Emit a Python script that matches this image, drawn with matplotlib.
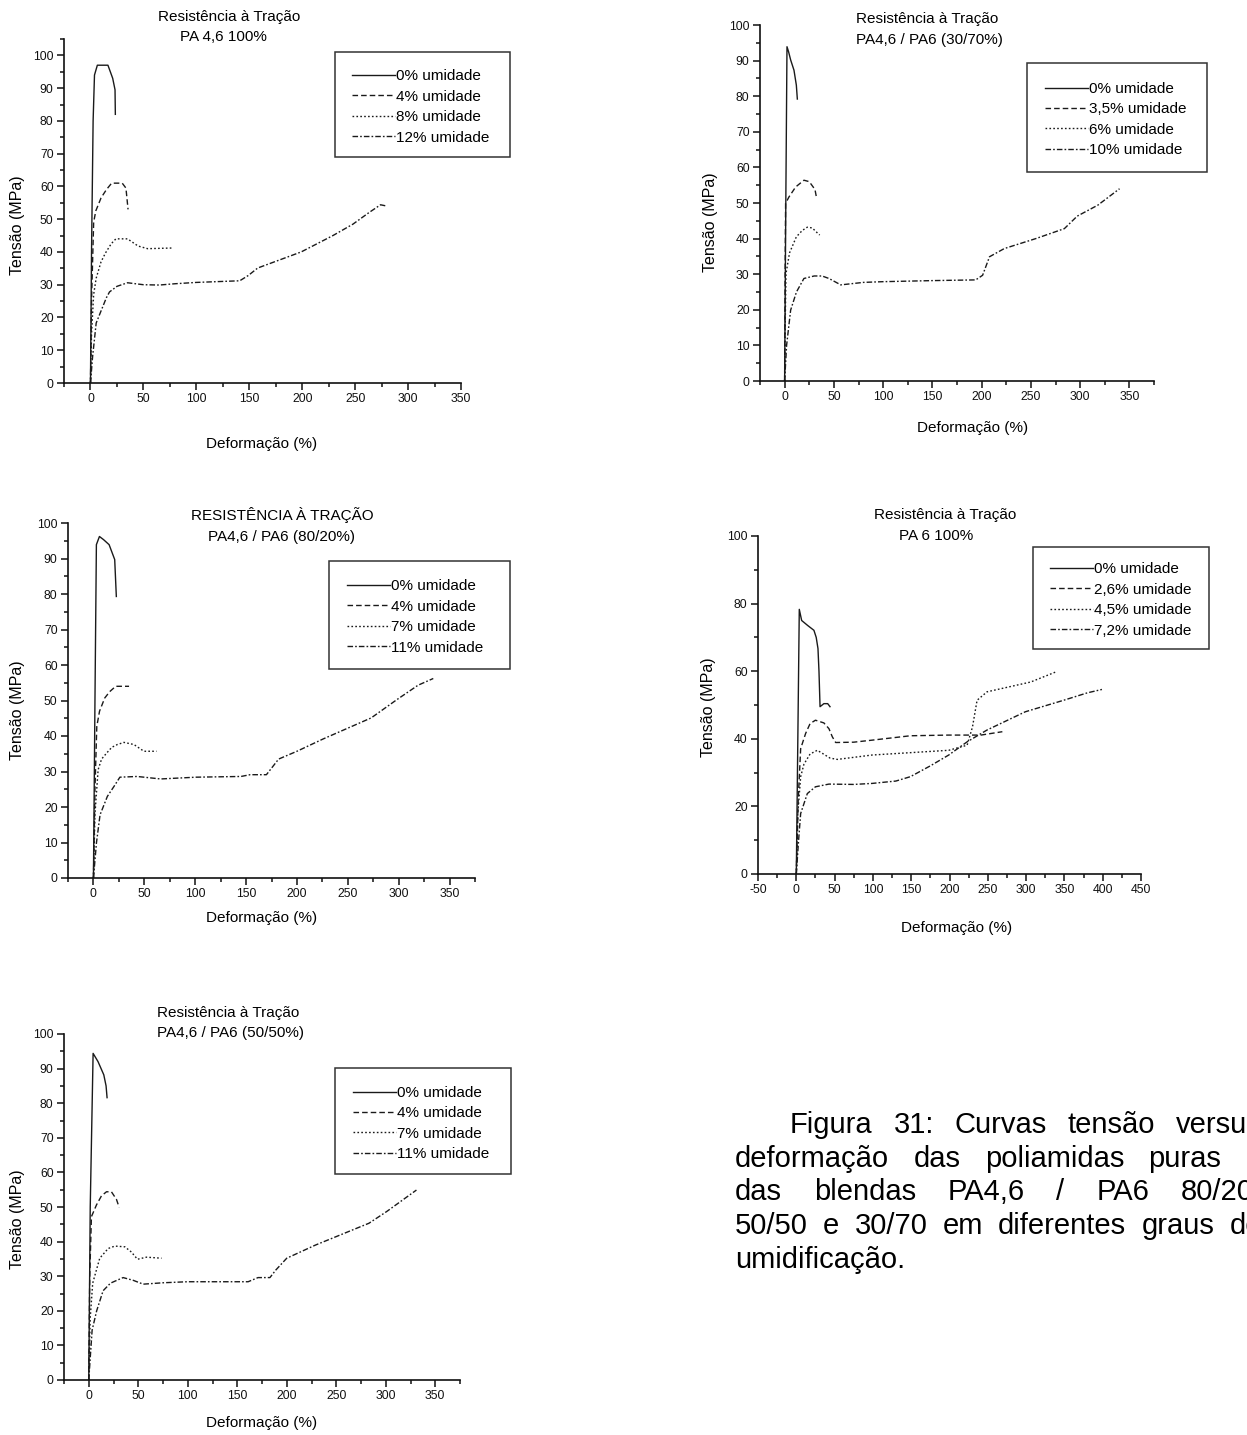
import matplotlib
matplotlib.use('Agg')
import matplotlib.pyplot as plt
from matplotlib.ticker import MultipleLocator
from matplotlib.patches import Rectangle

plt.rcParams['font.family'] = ['Liberation Sans', 'DejaVu Sans']
plt.rcParams['axes.unicode_minus'] = False

# ---------------- data ----------------
# Panel 1: PA 4,6 100%
p1_0_x = [0, 1, 2.5, 3.8, 6.5, 16.5, 21, 23.2, 23.5]
p1_0_y = [0, 40, 80, 94, 97, 97, 93, 89.5, 82]
p1_4_x = [0, 1, 3, 5, 10, 15, 20, 30, 33.5, 35.5]
p1_4_y = [0, 25, 49, 52.5, 56.5, 59, 61, 61, 59.5, 53]
p1_8_x = [0, 1, 3, 5.4, 10, 14.2, 19.6, 24, 35, 45, 54, 77]
p1_8_y = [0, 15, 27, 32, 37, 39.7, 42.5, 44, 44, 41.8, 41, 41.2]
p1_12_x = [0, 2, 5.4, 10, 15, 18, 25, 35, 50, 65, 80, 100, 141, 149, 158, 199, 229, 248, 263, 274, 280]
p1_12_y = [0, 8, 18.3, 22, 26, 27.8, 29.5, 30.6, 30, 29.9, 30.3, 30.7, 31.2, 32.8, 35.1, 40, 45, 48.5, 52, 54.4, 54]
p1_labels = ["0% umidade", "4% umidade", "8% umidade", "12% umidade"]

# Panel 2: PA4,6 / PA6 (30/70%)
p2_0_x = [0, 1.2, 2.4, 4, 6.1, 9.5, 11.9, 12.9]
p2_0_y = [0, 50, 93.9, 92.5, 90.2, 87.3, 83.1, 79.2]
p2_35_x = [0, 0.5, 1, 4.4, 11.2, 19.6, 25, 30.8, 32.5]
p2_35_y = [0, 30, 49.9, 51.7, 54.5, 56.4, 56, 53.8, 51.3]
p2_6_x = [0, 0.7, 1.4, 5, 11.9, 18, 23, 28, 33.2, 35.6]
p2_6_y = [0, 18, 30.2, 36, 40.5, 42.3, 43.2, 43, 41.6, 41]
p2_10_x = [0, 2, 6.1, 12, 19.6, 30, 38, 45, 57, 80, 100, 150, 194, 201, 208, 223, 255, 284, 297, 318, 340]
p2_10_y = [0, 10, 19.9, 25, 28.8, 29.5, 29.5, 28.8, 27, 27.7, 27.9, 28.2, 28.4, 29.7, 34.9, 37.2, 40, 42.8, 46.3, 49.4, 54]
p2_labels = ["0% umidade", "3,5% umidade", "6% umidade", "10% umidade"]

# Panel 3: PA4,6 / PA6 (80/20%)
p3_0_x = [0, 1.5, 2.9, 5.9, 10, 15.4, 20.9, 22.5]
p3_0_y = [0, 50, 93.9, 96.2, 95.3, 93.9, 89.7, 79.3]
p3_4_x = [0, 1.5, 3.3, 6, 11.1, 16, 21.9, 35]
p3_4_y = [0, 25, 42.7, 47, 50.7, 52.5, 54, 54]
p3_7_x = [0, 1.5, 4.6, 8, 13, 18, 23.5, 30, 39.8, 49.6, 62]
p3_7_y = [0, 18, 30.5, 33.5, 35.2, 36.8, 37.6, 38.2, 37.6, 35.7, 35.7]
p3_11_x = [0, 3, 6.5, 13.7, 20.2, 26, 43, 66, 101, 145, 154, 170, 182, 200, 226, 273, 298, 319, 334]
p3_11_y = [0, 10, 17.8, 23, 25.8, 28.4, 28.6, 27.9, 28.4, 28.6, 29.1, 29.1, 33.5, 35.7, 39.2, 45.1, 50.2, 54.3, 56.2]
p3_labels = ["0% umidade", "4% umidade", "7% umidade", "11% umidade"]

# Panel 4: PA 6 100%
p4_0_x = [0, 2, 3.9, 7, 15, 23, 26, 28.3, 29.6, 31, 36, 41, 44]
p4_0_y = [0, 40, 78.3, 75, 73.5, 72.1, 70, 66.7, 60, 49.5, 50.4, 50.4, 49.5]
p4_26_x = [0, 2.5, 5.7, 12.2, 18, 25, 36, 42.6, 47, 51.4, 75, 99, 149, 199, 241, 269]
p4_26_y = [0, 22, 37.1, 41.6, 44.5, 45.5, 44.7, 43, 40.6, 38.9, 39, 39.6, 40.9, 41.1, 41.1, 42.1]
p4_45_x = [0, 2, 5.7, 10, 18, 27.4, 34, 44, 53.5, 99, 149, 199, 223, 230, 236, 249, 306, 339]
p4_45_y = [0, 18, 28.8, 32.5, 35.5, 36.6, 35.7, 34.3, 33.9, 35.2, 35.9, 36.6, 38.1, 43.5, 51.4, 53.9, 56.8, 59.8]
p4_72_x = [0, 3, 5.7, 14.4, 25, 42.6, 75, 99, 130, 149, 175, 199, 223, 249, 299, 349, 380, 399]
p4_72_y = [0, 10, 17.9, 23.8, 25.8, 26.6, 26.5, 26.8, 27.5, 28.8, 32, 35.2, 39.1, 42.6, 48, 51.4, 53.6, 54.6]
p4_labels = ["0% umidade", "2,6% umidade", "4,5% umidade", "7,2% umidade"]

# Panel 5: PA4,6 / PA6 (50/50%)
p5_0_x = [0, 1.5, 4.4, 9.4, 15.2, 17.5, 18.5]
p5_0_y = [0, 50, 94.4, 92, 88.2, 85, 81.6]
p5_4_x = [0, 1, 2.7, 7.8, 12.8, 17.9, 22.9, 28, 30.7]
p5_4_y = [0, 30, 47.2, 50.6, 53.2, 54.4, 54.4, 52.2, 49.9]
p5_7_x = [0, 1.5, 4, 11.1, 19.6, 26.3, 36.4, 43, 49.2, 58.3, 73.5]
p5_7_y = [0, 18, 28, 35.2, 38, 38.7, 38.5, 37, 34.9, 35.5, 35.2]
p5_11_x = [0, 3.4, 8, 14.5, 22, 34.7, 45, 55, 75, 100, 161, 171, 183, 189, 200, 229, 283, 301, 331]
p5_11_y = [0, 14.4, 20, 25.8, 28, 29.6, 28.8, 27.7, 28.1, 28.4, 28.4, 29.6, 29.6, 31.8, 35.2, 39, 45.3, 48.7, 54.9]
p5_labels = ["0% umidade", "4% umidade", "7% umidade", "11% umidade"]

titles = [
    ["Resistência à Tração", "PA 4,6 100%"],
    ["Resistência à Tração", "PA4,6 / PA6 (30/70%)"],
    ["RESISTÊNCIA À TRAÇÃO", "PA4,6 / PA6 (80/20%)"],
    ["Resistência à Tração", "PA 6 100%"],
    ["Resistência à Tração", "PA4,6 / PA6 (50/50%)"],
]
xlabel = "Deformação (%)"
ylabel = "Tensão (MPa)"
caption_lines = [
    "Figura 31: Curvas tensão versus",
    "deformação das poliamidas puras e",
    "das blendas PA4,6 / PA6 80/20,",
    "50/50 e 30/70 em diferentes graus de",
    "umidificação.",
]

# ---------------- layout ----------------
W, H = 1247, 1435
fig = plt.figure(figsize=(W / 100, H / 100), dpi=100)


def fx(px):
    return px / W


def fy(py):
    return 1 - py / H


styles = ['-', (0, (4, 2.2)), (0, (1.2, 1.6)), (0, (4, 1.5, 1.2, 1.5))]
LC = '#1a1a1a'

panels = [
    dict(series=[(p1_0_x, p1_0_y), (p1_4_x, p1_4_y), (p1_8_x, p1_8_y), (p1_12_x, p1_12_y)],
         labels=p1_labels, rect=(64, 461, 39, 383), xlim=(-25, 350), ylim=(0, 105),
         xt=(50, 25), yt=(10, 5),
         title=[(158, 17, 'left'), (180, 37, 'left')],
         box=(335, 510, 52, 157), hx=352, rows=107,
         xl=(262, 444), yl=(18, 225)),
    dict(series=[(p2_0_x, p2_0_y), (p2_35_x, p2_35_y), (p2_6_x, p2_6_y), (p2_10_x, p2_10_y)],
         labels=p2_labels, rect=(760, 1154, 25, 381), xlim=(-25, 375), ylim=(0, 100),
         xt=(50, 25), yt=(10, 5),
         title=[(856, 19, 'left'), (856, 40, 'left')],
         box=(1027, 1207, 63, 172), hx=1045, rows=119.5,
         xl=(973, 428), yl=(710, 222)),
    dict(series=[(p3_0_x, p3_0_y), (p3_4_x, p3_4_y), (p3_7_x, p3_7_y), (p3_11_x, p3_11_y)],
         labels=p3_labels, rect=(68, 475, 523, 878), xlim=(-25, 375), ylim=(0, 100),
         xt=(50, 25), yt=(10, 5),
         title=[(282, 515, 'center'), (282, 537, 'center')],
         box=(329, 510, 561, 669), hx=347, rows=617,
         xl=(262, 918), yl=(18, 710)),
    dict(series=[(p4_0_x, p4_0_y), (p4_26_x, p4_26_y), (p4_45_x, p4_45_y), (p4_72_x, p4_72_y)],
         labels=p4_labels, rect=(758, 1141, 536, 874), xlim=(-50, 450), ylim=(0, 100),
         xt=(50, 25), yt=(20, 10),
         title=[(874, 515, 'left'), (899, 536, 'left')],
         box=(1033, 1209, 547, 649), hx=1050, rows=600,
         xl=(957, 928), yl=(708, 707)),
    dict(series=[(p5_0_x, p5_0_y), (p5_4_x, p5_4_y), (p5_7_x, p5_7_y), (p5_11_x, p5_11_y)],
         labels=p5_labels, rect=(64, 460, 1034, 1380), xlim=(-25, 375), ylim=(0, 100),
         xt=(50, 25), yt=(10, 5),
         title=[(157, 1013, 'left'), (157, 1033, 'left')],
         box=(335, 511, 1068, 1174), hx=353, rows=1123.5,
         xl=(262, 1423), yl=(18, 1219)),
]

for P, ttl in zip(panels, titles):
    x0, x1, yt, yb = P['rect']
    ax = fig.add_axes([fx(x0), fy(yb), (x1 - x0) / W, (yb - yt) / H])
    ax.patch.set_alpha(0)
    for (xs, ys), lab, st in zip(P['series'], P['labels'], styles):
        ax.plot(xs, ys, color=LC, lw=1.0, ls=st, label=lab)
    ax.set_xlim(*P['xlim'])
    ax.set_ylim(*P['ylim'])
    ax.xaxis.set_major_locator(MultipleLocator(P['xt'][0]))
    ax.xaxis.set_minor_locator(MultipleLocator(P['xt'][1]))
    ax.yaxis.set_major_locator(MultipleLocator(P['yt'][0]))
    ax.yaxis.set_minor_locator(MultipleLocator(P['yt'][1]))
    for s in ('top', 'right'):
        ax.spines[s].set_visible(False)
    for s in ('left', 'bottom'):
        ax.spines[s].set_linewidth(1.2)
        ax.spines[s].set_color('#111111')
    ax.tick_params(which='major', direction='out', length=5, width=1.1, labelsize=8.8, pad=2.5, colors='#111111')
    ax.tick_params(which='minor', direction='out', length=3, width=1.1, colors='#111111')

    # legend (entries) + frame
    ax.legend(loc='center left', bbox_to_anchor=(fx(P['hx']), fy(P['rows'])),
              bbox_transform=fig.transFigure, frameon=False, fontsize=11,
              handlelength=2.8, handletextpad=0.1, labelspacing=0.42,
              borderpad=0, borderaxespad=0)
    bx0, bx1, by0, by1 = P['box']
    fig.add_artist(Rectangle((fx(bx0), fy(by1)), (bx1 - bx0) / W, (by1 - by0) / H,
                             transform=fig.transFigure, fill=False, lw=1.1, ec='#333333'))

    # titles and labels
    for line, (tx, ty, ha) in zip(ttl, P['title']):
        fig.text(fx(tx), fy(ty), line, ha=ha, va='center', fontsize=11)
    fig.text(fx(P['xl'][0]), fy(P['xl'][1]), xlabel, ha='center', va='center', fontsize=11)
    fig.text(fx(P['yl'][0]), fy(P['yl'][1]), ylabel, ha='center', va='center', fontsize=11.5, rotation=90)

# ---------------- justified caption ----------------
renderer = fig.canvas.get_renderer()
cap_start = [790, 735, 735, 735, 735]
cap_base = [1133, 1167, 1200, 1234, 1268]
cap_right = 1262
cap_fs = 21
for i, line in enumerate(caption_lines):
    words = line.split(' ')
    objs = [fig.text(0, fy(cap_base[i]), w, ha='left', va='baseline', fontsize=cap_fs) for w in words]
    widths = [o.get_window_extent(renderer).width for o in objs]
    justify = i < len(caption_lines) - 1
    if justify and len(words) > 1:
        gap = (cap_right - cap_start[i] - sum(widths)) / (len(words) - 1)
    else:
        gap = cap_fs * 100 / 72 * 0.278
    x = cap_start[i]
    for o, w in zip(objs, widths):
        o.set_x(fx(x))
        x += w + gap

fig.savefig('out.png', dpi=100)
